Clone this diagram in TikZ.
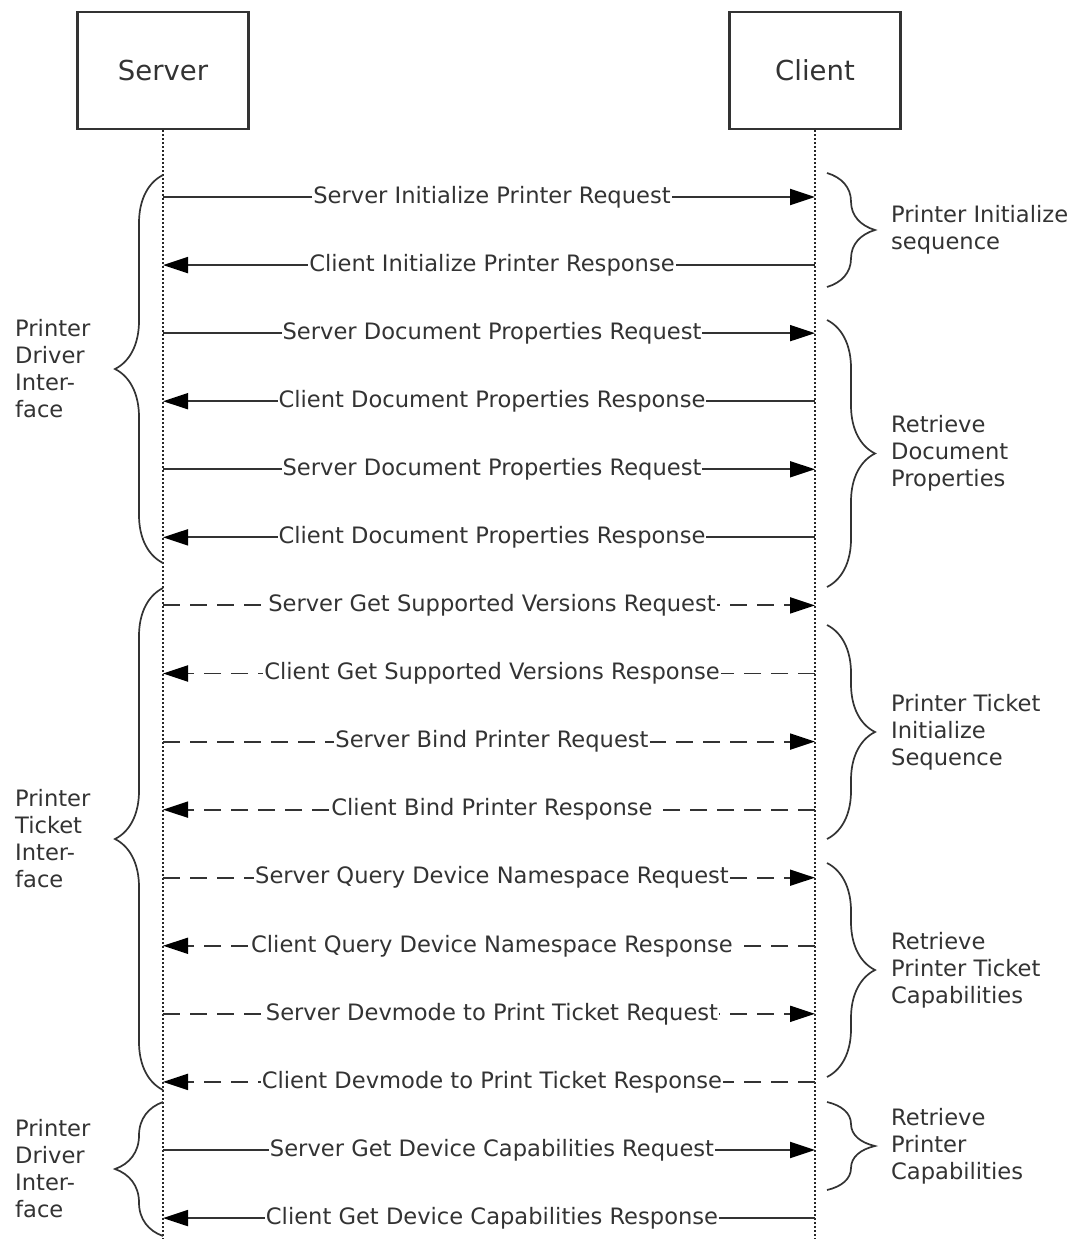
\documentclass[tikz,border=0pt]{standalone}
\usepackage{fontspec}
\setmainfont{DejaVu Sans}
\usetikzlibrary{arrows.meta,decorations.pathreplacing}

\tikzset{%
        every actor/.style={
            draw=black!80,
            line width=2.2pt,
            minimum width=171pt,
            minimum height=117pt,
            text=black!80,
            font=\fontsize{27.5}{32}\selectfont
        },
        lifeline/.style={
            draw=black!85,
            line width=1.6pt,
            dash pattern=on 2pt off 2pt
        },
        message solid/.style={
            draw=black!80,
            line width=1.9pt,
            -{Triangle[length=25pt,width=16pt,color=black]}
        },
        message dashed/.style={
            message solid,
            dash pattern=on 17pt off 10pt
        },
        message label/.style={
            fill=white,
            inner xsep=1pt,
            inner ysep=2pt,
            text=black!80,
            font=\fontsize{22.6}{27}\selectfont
        },
        group brace/.style={
            draw=black!80,
            line width=1.7pt,
            decorate,
            decoration={brace, amplitude=48pt}
        },
        group label/.style={
            anchor=west,
            align=left,
            inner sep=0pt,
            text=black!80,
            font=\fontsize{22.6}{27}\selectfont
        },
    }

\begin{document}
\begin{tikzpicture}[x=1pt, y=-1pt]
        \useasboundingbox (0,0) rectangle (1074,1239);

        \node [every actor] (server) at (163,70.5) {Server};
        \node [every actor] (client) at (815,70.5) {Client};

        \coordinate (server-end) at (163,1239);
        \coordinate (client-end) at (815,1239);
        \draw [lifeline] (server) -- (server-end);
        \draw [lifeline] (client) -- (client-end);

        \foreach \l/\f/\t/\s [count=\i from 0] in {
            Server Initialize Printer Request/srv/cli/solid,
            Client Initialize Printer Response/cli/srv/solid,
            Server Document Properties Request/srv/cli/solid,
            Client Document Properties Response/cli/srv/solid,
            Server Document Properties Request/srv/cli/solid,
            Client Document Properties Response/cli/srv/solid,
            Server Get Supported Versions Request/srv/cli/dashed,
            Client Get Supported Versions Response/cli/srv/dashed,
            Server Bind Printer Request/srv/cli/dashed,
            Client Bind Printer Response/cli/srv/dashed,
            Server Query Device Namespace Request/srv/cli/dashed,
            Client Query Device Namespace Response/cli/srv/dashed,
            Server Devmode to Print Ticket Request/srv/cli/dashed,
            Client Devmode to Print Ticket Response/cli/srv/dashed,
            Server Get Device Capabilities Request/srv/cli/solid,
            Client Get Device Capabilities Response/cli/srv/solid}
        {
            \coordinate (srv-\i) at (163,{197+68.07*\i});
            \coordinate (cli-\i) at (815,{197+68.07*\i});
            \draw [message \s] (\f-\i) -- (\t-\i)
                node [message label, midway, xshift=3pt] (msg-\i) {\l};
        }

        % braces on the server side
        \foreach \t/\b/\l [count=\i] in {
            175/563/{Printer\\Driver\\Inter-\\face},
            588/1090/{Printer\\Ticket\\Inter-\\face},
            1102/1236/{Printer\\Driver\\Inter-\\face}}
        {
            \draw [group brace] (163,\b) -- (163,\t);
            \node [group label] (interface-\i) at (15,{(\t+\b)/2}) {\l};
        }

        % braces on the client side
        \foreach \t/\b/\l [count=\i] in {
            173/287/{Printer Initialize\\sequence},
            320/587/{Retrieve\\Document\\Properties},
            625/839/{Printer Ticket\\Initialize\\Sequence},
            863/1077/{Retrieve\\Printer Ticket\\Capabilities},
            1102/1190/{Retrieve\\Printer\\Capabilities}}
        {
            \draw [group brace] (827,\t) -- (827,\b);
            \node [group label] (sequence-\i) at (891,{(\t+\b)/2}) {\l};
        }
\end{tikzpicture}
\end{document}
